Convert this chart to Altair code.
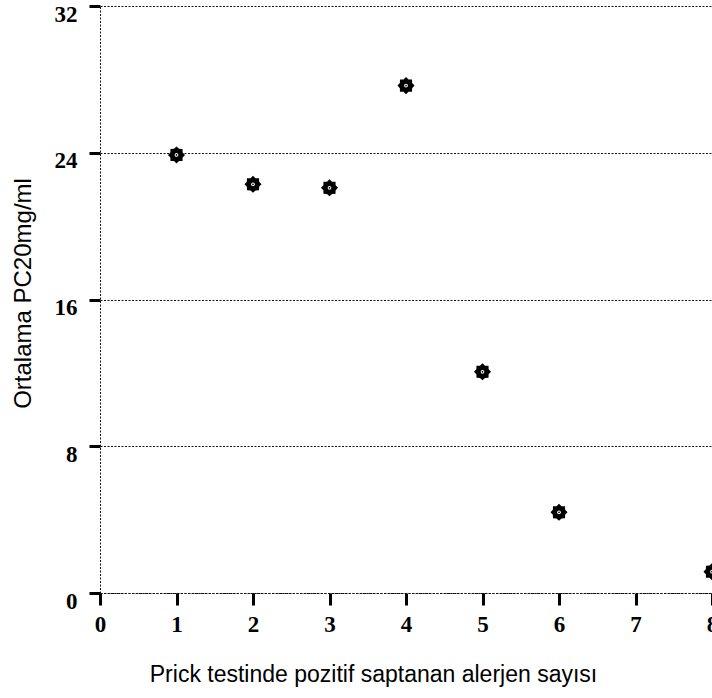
import math
import altair as alt
import pandas as pd

# Data
x_vals = [1, 2, 3, 4, 5, 6, 8]
y_vals = [23.88, 22.28, 22.09, 27.66, 12.06, 4.40, 1.16]
x_ticks = [0, 1, 2, 3, 4, 5, 6, 7, 8]
y_ticks = [0, 8, 16, 24, 32]

df = pd.DataFrame({"n": x_vals, "v": y_vals})

# 8-pointed star marker path (unit coordinates)
pts = []
for k in range(16):
    r = 1.0 if k % 2 == 0 else 0.78
    a = k * math.pi / 8 - math.pi / 2
    pts.append(f"{r*math.cos(a):.3f},{r*math.sin(a):.3f}")
star = "M" + " L".join(pts) + " Z"

x_enc = alt.X(
    "n:Q",
    scale=alt.Scale(domain=[0, 8], nice=False, zero=False),
    axis=alt.Axis(
        values=x_ticks, format="d",
        title="Prick testinde pozitif saptanan alerjen sayısı",
        grid=False,
        tickSize=12, tickWidth=3, tickColor="black",
        domainDash=[2, 2], domainColor="#111111", domainWidth=1,
        labelFont="Liberation Serif", labelFontSize=23, labelFontWeight="bold",
        labelColor="black", labelPadding=8, labelFlush=False,
        titleFont="Liberation Sans", titleFontSize=23, titleFontWeight="normal",
        titleColor="black", titleX=273, titleY=88,
        titleBaseline="alphabetic", titleAlign="center",
    ),
)
y_enc = alt.Y(
    "v:Q",
    scale=alt.Scale(domain=[0, 32], nice=False, zero=True),
    axis=alt.Axis(
        values=y_ticks, title="Ortalama PC20mg/ml",
        grid=True, gridDash=[2, 1.5], gridColor="#111111", gridWidth=1,
        tickSize=11, tickWidth=3, tickColor="black",
        domainDash=[2, 1.5], domainColor="#111111", domainWidth=1,
        labelFont="Liberation Serif", labelFontSize=23, labelFontWeight="bold",
        labelColor="black", labelPadding=12, labelOffset=8, labelFlush=False,
        titleFont="Liberation Sans", titleFontSize=24, titleFontWeight="normal",
        titleColor="black", titleAngle=-90, titleX=-77, titleY=287,
        titleBaseline="middle", titleAlign="center",
    ),
)

base = alt.Chart(df)
stars = base.mark_point(shape=star, filled=True, fill="black", size=290,
                        strokeWidth=0, opacity=1).encode(x=x_enc, y=y_enc)
centers = base.mark_point(shape="circle", filled=True, fill="white", size=14,
                          strokeWidth=0, opacity=1).encode(x="n:Q", y="v:Q")
dots = base.mark_point(shape="circle", filled=True, fill="black", size=3,
                       strokeWidth=0, opacity=1).encode(x="n:Q", y="v:Q")

chart = (
    alt.layer(stars, centers, dots)
    .properties(width=612, height=587, autosize="none",
                padding={"left": 100, "top": 6, "right": 0, "bottom": 105},
                background="white")
    .configure_view(stroke=None)
)

chart.save("out.html", embed_options={"renderer": "svg", "actions": False})
